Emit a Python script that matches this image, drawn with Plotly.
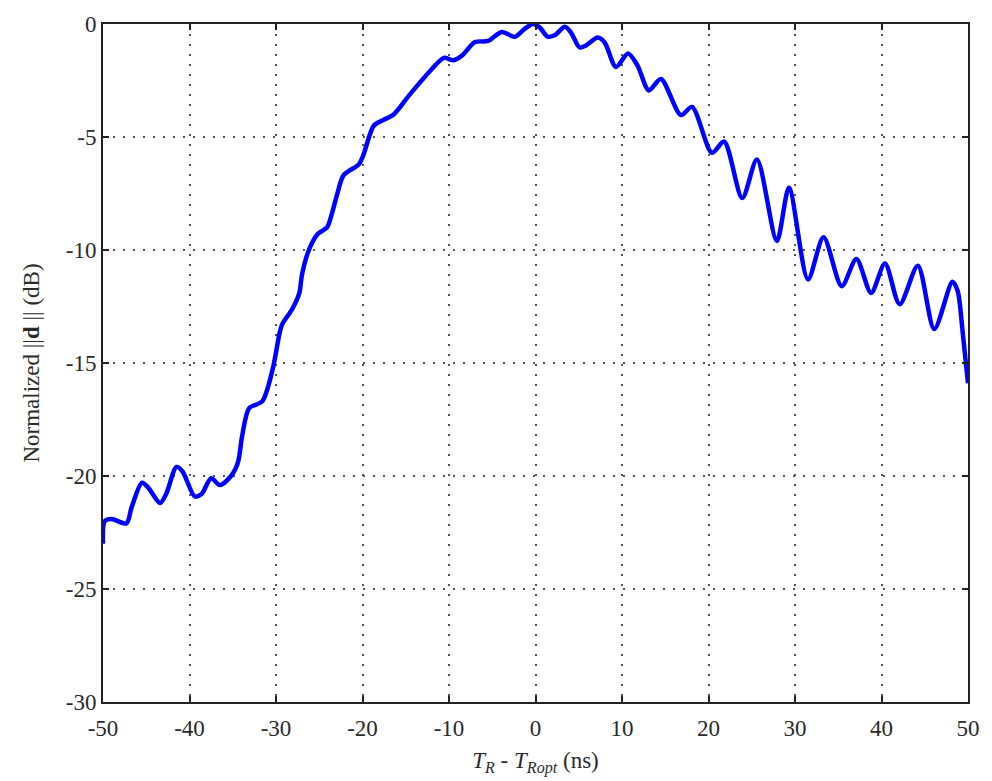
import plotly.graph_objects as go

x_ns = [-50.0, -49.8, -49.0, -47.3, -46.7, -45.5, -44.8, -43.4, -42.7, -41.5,
        -40.8, -39.4, -38.6, -37.5, -36.5, -35.2, -34.4, -33.9, -33.1, -31.6,
        -30.4, -29.6, -29.3, -28.1, -27.3, -27.0, -26.2, -25.2, -24.1, -23.7,
        -22.9, -22.2, -20.4, -19.9, -18.7, -17.6, -16.4, -14.7, -13.5, -12.0,
        -10.6, -9.5, -8.5, -7.0, -5.5, -3.9, -2.4, -1.3, -0.3, 0.5,
        1.4, 2.2, 3.4, 4.1, 5.1, 5.8, 7.2, 8.0, 9.3, 10.7,
        11.8, 13.1, 14.5, 16.8, 18.1, 20.4, 21.8, 23.9, 25.6, 27.9,
        29.3, 31.5, 33.3, 35.4, 37.1, 38.8, 40.4, 42.1, 44.2, 46.1,
        48.2, 48.8, 49.4, 50.0]
norm_db = [-23.0, -22.0, -21.9, -22.1, -21.4, -20.3, -20.5, -21.2, -20.8, -19.6,
           -19.8, -20.9, -20.8, -20.1, -20.4, -20.0, -19.4, -18.2, -17.0, -16.7,
           -15.3, -13.7, -13.3, -12.6, -11.9, -11.1, -10.0, -9.3, -9.0, -8.6,
           -7.5, -6.7, -6.2, -5.8, -4.5, -4.25, -4.0, -3.2, -2.65, -2.0,
           -1.5, -1.6, -1.4, -0.8, -0.75, -0.35, -0.56, -0.23, 0.0, -0.16,
           -0.56, -0.5, -0.12, -0.38, -1.04, -0.96, -0.6, -0.82, -1.9, -1.3,
           -1.84, -2.94, -2.43, -4.03, -3.67, -5.7, -5.2, -7.7, -6.0, -9.6,
           -7.25, -11.3, -9.44, -11.6, -10.4, -11.9, -10.6, -12.4, -10.7, -13.5,
           -11.4, -11.8, -13.7, -15.9]

x_ticks = [-50, -40, -30, -20, -10, 0, 10, 20, 30, 40, 50]
y_ticks = [-30, -25, -20, -15, -10, -5, 0]

font = "Liberation Serif, Times New Roman, serif"
txt_color = "#2a2a2a"

fig = go.Figure()
fig.add_trace(go.Scatter(
    x=x_ns, y=norm_db, mode="lines",
    line=dict(color="#0000FF", width=4.5, shape="spline", smoothing=0.8),
    showlegend=False,
))

axis_common = dict(
    showline=True, linecolor="#222", linewidth=2, mirror="ticks",
    ticks="inside", ticklen=6, tickwidth=1.5, tickcolor="#222",
    showgrid=True, gridcolor="#555", gridwidth=1.5, griddash="2px,8px",
    zeroline=False,
    tickfont=dict(family=font, size=23, color=txt_color),
)

fig.update_xaxes(range=[-50, 50], tickvals=x_ticks, ticktext=[str(v) for v in x_ticks],
                 ticklabelstandoff=4,
                 title=dict(text="<i>T</i><sub><i>R</i></sub> - <i>T</i><sub><i>Ropt</i></sub> (ns)",
                            font=dict(family=font, size=23, color=txt_color), standoff=12),
                 **axis_common)
fig.update_yaxes(range=[-30, 0], tickvals=y_ticks, ticktext=[str(v) for v in y_ticks],
                 title=dict(text="Normalized ||<b>d</b> || (dB)",
                            font=dict(family=font, size=23, color=txt_color), standoff=20),
                 **axis_common)

fig.update_layout(
    width=992, height=781,
    margin=dict(l=103, r=20, t=18, b=79),
    plot_bgcolor="white", paper_bgcolor="white",
)

fig.write_html("out.html")
